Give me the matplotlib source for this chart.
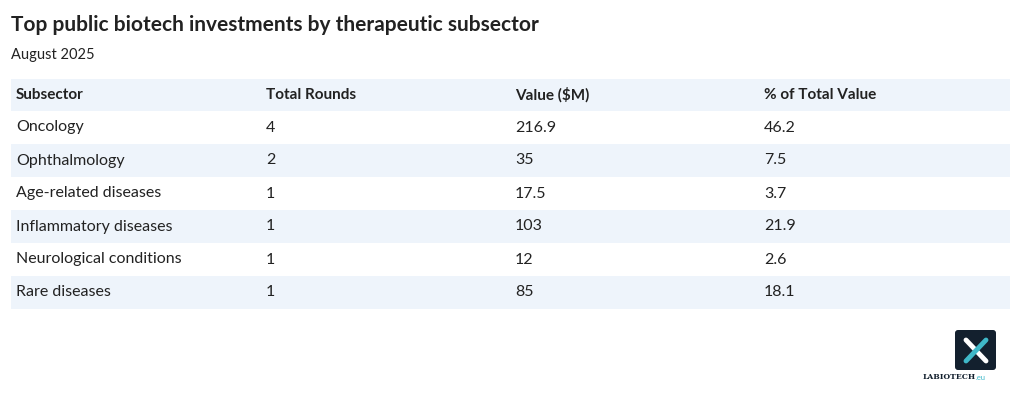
import matplotlib
matplotlib.use("Agg")
import matplotlib.pyplot as plt
from matplotlib.patches import Rectangle, FancyBboxPatch

title = "Top public biotech investments by therapeutic subsector"
subtitle = "August 2025"
columns = ["Subsector", "Total Rounds", "Value ($M)", "% of Total Value"]
subsectors = ["Oncology", "Ophthalmology", "Age-related diseases", "Inflammatory diseases",
              "Neurological conditions", "Rare diseases"]
rounds = ["4", "2", "1", "1", "1", "1"]
values = ["216.9", "35", "17.5", "103", "12", "85"]
shares = ["46.2", "7.5", "3.7", "21.9", "2.6", "18.1"]

W, H = 1020, 401
fig = plt.figure(figsize=(W/100, H/100), dpi=100)
ax = fig.add_axes([0, 0, 1, 1])
ax.set_xlim(0, W); ax.set_ylim(H, 0); ax.axis("off")
FONT = "Lato"
TXT = "#222222"
BAND = "#eef4fb"

ax.text(11, 25, title, fontsize=15, fontweight="bold", color=TXT, va="center", family=FONT)
ax.text(11, 55, subtitle, fontsize=10.5, color=TXT, va="center", family=FONT)

colx = [16, 266, 515, 764]
ax.add_patch(Rectangle((11, 79), 999, 32, color=BAND, lw=0))
for x, c in zip(colx, columns):
    ax.text(x, 95, c, fontsize=11, fontweight="bold", color=TXT, va="center", family=FONT)

top = 111
rh = 33
for i, row in enumerate(zip(subsectors, rounds, values, shares)):
    y0 = top + i * rh
    if i % 2 == 1:
        ax.add_patch(Rectangle((11, y0), 999, rh, color=BAND, lw=0))
    for x, v in zip(colx, row):
        ax.text(x, y0 + rh/2, v, fontsize=11.5, color=TXT, va="center", family=FONT)

# logo
ax.add_patch(FancyBboxPatch((955, 330), 41, 40, boxstyle="round,pad=0,rounding_size=3",
                            color="#13202e", lw=0))
ax.plot([966, 986], [340, 361], color="white", lw=3.5, solid_capstyle="round")
ax.plot([986, 966], [340, 361], color="#3fb8c8", lw=3.5, solid_capstyle="round")
ax.text(975.5, 377, "LABIOTECH", fontsize=5.5, fontweight="bold", color="#13202e",
        ha="right", va="center", family="DejaVu Serif")
ax.text(976, 377, ".eu", fontsize=5.5, color="#3fb8c8", ha="left", va="center", family=FONT)

fig.savefig("out.png", dpi=100)
